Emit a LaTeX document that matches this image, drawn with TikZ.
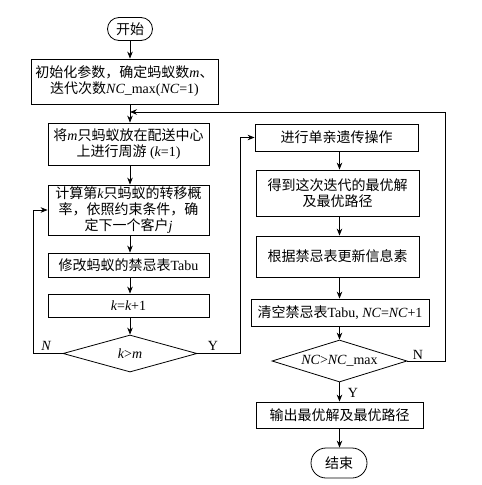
\documentclass[tikz,border=0pt]{standalone}
\usepackage{fontspec}
\setmainfont{Noto Sans CJK SC}
\newfontfamily\lat{Liberation Serif}
\usetikzlibrary{shapes.geometric,shapes.misc,arrows.meta}
\newcommand\mi[1]{{\lat\itshape #1}}
\newcommand\tx[1]{{\lat #1}}
\begin{document}
\begin{tikzpicture}[x=1pt,y=-1pt,
  box/.style={draw,line width=0.8pt,inner sep=0pt,align=center,font=\fontsize{14}{16}\selectfont},
  term/.style={box,rounded rectangle},
  dec/.style={draw,diamond,aspect=3.2,line width=0.8pt,inner sep=0pt,font=\fontsize{14}{16}\selectfont},
  arr/.style={line width=0.8pt,-{Stealth[length=7pt,width=5.5pt]}},
  conn/.style={line width=0.8pt},
  lab/.style={font=\lat\fontsize{14}{16}\selectfont,inner sep=0pt}]
\useasboundingbox (0,0) rectangle (482,485);
% left column
\node[term,minimum width=45pt,minimum height=23pt] (start) at (130,29) {开始};
\node[box,minimum width=187pt,minimum height=45pt] (b1) at (124.5,81.5) {初始化参数，确定蚂蚁数\mi{m}、\\迭代次数\mi{NC}\tx{\_max(}\mi{NC}\tx{=1)}};
\node[box,minimum width=161pt,minimum height=42pt] (b2) at (128.5,144) {将\mi{m}只蚂蚁放在配送中心\\上进行周游\tx{ (}\mi{k}\tx{=1)}};
\node[box,minimum width=161pt,minimum height=50pt] (b3) at (128.5,210) {计算第\mi{k}只蚂蚁的转移概\\率，依照约束条件，确\\定下一个客户\mi{j}};
\node[box,minimum width=161pt,minimum height=24pt] (b4) at (128.5,265) {修改蚂蚁的禁忌表\tx{Tabu}};
\node[box,minimum width=161pt,minimum height=23pt] (b5) at (128.5,305.5) {\mi{k}\tx{=}\mi{k}\tx{+1}};
\node[dec,minimum width=134pt,minimum height=37pt] (d1) at (130,353.5) {\mi{k}\tx{>}\mi{m}};
% right column
\node[box,minimum width=163pt,minimum height=27pt] (r1) at (336.5,137.5) {进行单亲遗传操作};
\node[box,minimum width=163pt,minimum height=46pt] (r2) at (337.5,193) {得到这次迭代的最优解\\及最优路径};
\node[box,minimum width=163pt,minimum height=41pt] (r3) at (337.5,256.5) {根据禁忌表更新信息素};
\node[box,minimum width=178pt,minimum height=27pt] (r4) at (340,312.5) {清空禁忌表\tx{Tabu, }\mi{NC}\tx{=}\mi{NC}\tx{+1}};
\node[dec,minimum width=135pt,minimum height=42pt] (d2) at (339.5,361) {\mi{NC}\tx{>}\mi{NC}\tx{\_max}};
\node[box,minimum width=167pt,minimum height=26pt] (r5) at (339.5,415) {输出最优解及最优路径};
\node[term,minimum width=56pt,minimum height=30pt] (end) at (339,463) {结束};
% helper coordinates
\coordinate (j1) at (130,112);
\coordinate (lx) at (33,0);
\coordinate (mx) at (240,0);
\coordinate (rx) at (445,0);
% labels
\node[lab,font=\lat\itshape\fontsize{14}{16}\selectfont] (nl) at (46,346) {N};
\node[lab] (yl) at (213,346) {Y};
\node[lab] (nr) at (418,355) {N};
\node[lab] (yr) at (353,393) {Y};
% left connectors
\draw[arr] (start.south -| d1) -- (b1.north -| d1);
\draw[conn] (b1.south -| d1) -- (j1);
\draw[arr] (j1) -- (b2.north -| d1);
\draw[arr] (b2.south -| d1) -- (b3.north -| d1);
\draw[arr] (b3.south -| d1) -- (b4.north -| d1);
\draw[arr] (b4.south -| d1) -- (b5.north -| d1);
\draw[arr] (b5.south -| d1) -- (d1.north);
\draw[arr] (d1.west) -- (d1.west -| lx) -- (b3.west -| lx) -- (b3.west);
\draw[arr] (d1.east) -- (d1.east -| mx) -- (r1.west -| mx) -- (r1.west);
% right connectors
\draw[arr] (r1.south -| d2) -- (r2.north -| d2);
\draw[arr] (r2.south -| d2) -- (r3.north -| d2);
\draw[arr] (r3.south -| d2) -- (r4.north -| d2);
\draw[arr] (r4.south -| d2) -- (d2.north);
\draw[arr] (d2.south) -- (r5.north -| d2);
\draw[arr] (r5.south -| d2) -- (end.north -| d2);
\draw[arr] (d2.east) -- (d2.east -| rx) -- (j1 -| rx) -- (j1);
\end{tikzpicture}
\end{document}
